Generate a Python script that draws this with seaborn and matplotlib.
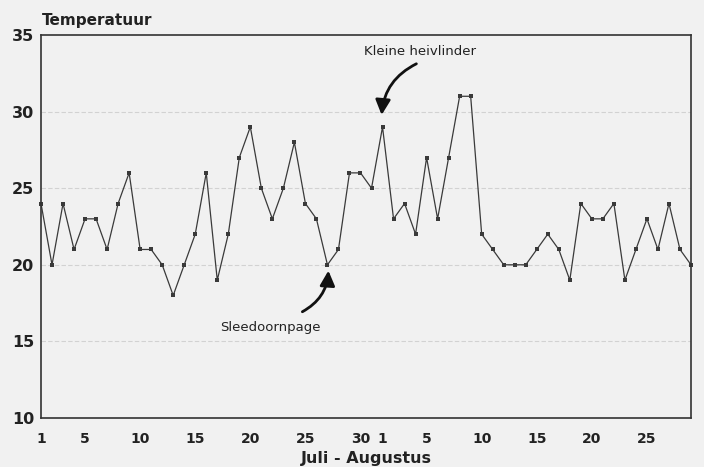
import numpy as np
import pandas as pd
import matplotlib
matplotlib.use("Agg")
import matplotlib.pyplot as plt
import seaborn as sns

# Dagelijkse temperatuur, juli en augustus
juli_temp = [24, 20, 24, 21, 23, 23, 21, 24, 26, 21, 21, 20, 18, 20, 22, 26,
             19, 22, 27, 29, 25, 23, 25, 28, 24, 23, 20, 21, 26, 26, 25]
augustus_temp = [29, 23, 24, 22, 27, 23, 27, 31, 31, 22, 21, 20, 20, 20, 21,
                 22, 21, 19, 24, 23, 23, 24, 19, 21, 23, 21, 24, 21, 20]
juli_labels = [1, 5, 10, 15, 20, 25, 30]
augustus_labels = [1, 5, 10, 15, 20, 25]
y_ticks = [10, 15, 20, 25, 30, 35]

temps = juli_temp + augustus_temp
df = pd.DataFrame({"dag": np.arange(len(temps)), "temp": temps})

sns.set_style("white")
plt.rcParams["font.family"] = ["DejaVu Sans"]

fig = plt.figure(figsize=(7.04, 4.67), dpi=100)
fig.patch.set_facecolor("#f1f1f1")
ax = fig.add_axes([41 / 704, 49 / 467, 650 / 704, 383 / 467])
ax.set_facecolor("#f1f1f1")

sns.lineplot(data=df, x="dag", y="temp", ax=ax, color="#3a3a3a", lw=0.9,
             marker="s", markersize=3, markeredgewidth=0, clip_on=False)

ax.set_xlim(0, len(temps) - 1)
ax.set_ylim(10, 35)

# dag-ticks en labels
n_juli = len(juli_temp)
tick_pos = list(range(len(temps)))
tick_lab = [""] * len(temps)
for d in juli_labels:
    tick_lab[d - 1] = str(d)
for d in augustus_labels:
    tick_lab[n_juli + d - 1] = str(d)
ax.set_xticks(tick_pos)
ax.set_xticklabels(tick_lab, fontsize=10, fontweight="bold", color="#222222")
ax.tick_params(axis="x", direction="in", length=5, width=0.8, color="#333333", pad=10)

ax.set_yticks(y_ticks)
ax.set_yticklabels([str(v) for v in y_ticks], fontsize=11.5, fontweight="bold", color="#222222")
ax.tick_params(axis="y", direction="in", length=6, width=0.8, color="#999999", pad=5)

for v in y_ticks[1:-1]:
    ax.axhline(v, color="#d2d2d2", lw=0.8, ls=(0, (4, 2)), zorder=0)

for s in ax.spines.values():
    s.set_color("#333333")
    s.set_linewidth(1.2)

ax.set_xlabel("Juli - Augustus", fontsize=11.5, fontweight="bold", color="#222222", labelpad=4)
ax.set_ylabel("")
fig.text(42 / 704, 1 - 20 / 467, "Temperatuur", fontsize=11, fontweight="bold",
         color="#222222", va="center", ha="left")

# annotaties
ax.text(29.3, 33.9, "Kleine heivlinder", fontsize=9.5, color="#222222", va="center", ha="left")
ax.annotate("", xy=(30.9, 29.6), xytext=(34.3, 33.2),
            arrowprops=dict(arrowstyle="-|>,head_length=0.9,head_width=0.45",
                            color="#111111", lw=2, connectionstyle="arc3,rad=0.3"))
ax.text(20.8, 15.9, "Sleedoornpage", fontsize=9.5, color="#222222", va="center", ha="center")
ax.annotate("", xy=(26.1, 19.8), xytext=(23.5, 16.85),
            arrowprops=dict(arrowstyle="-|>,head_length=0.9,head_width=0.45",
                            color="#111111", lw=2, connectionstyle="arc3,rad=0.3"))

fig.savefig("out.png", dpi=100, facecolor=fig.get_facecolor())
